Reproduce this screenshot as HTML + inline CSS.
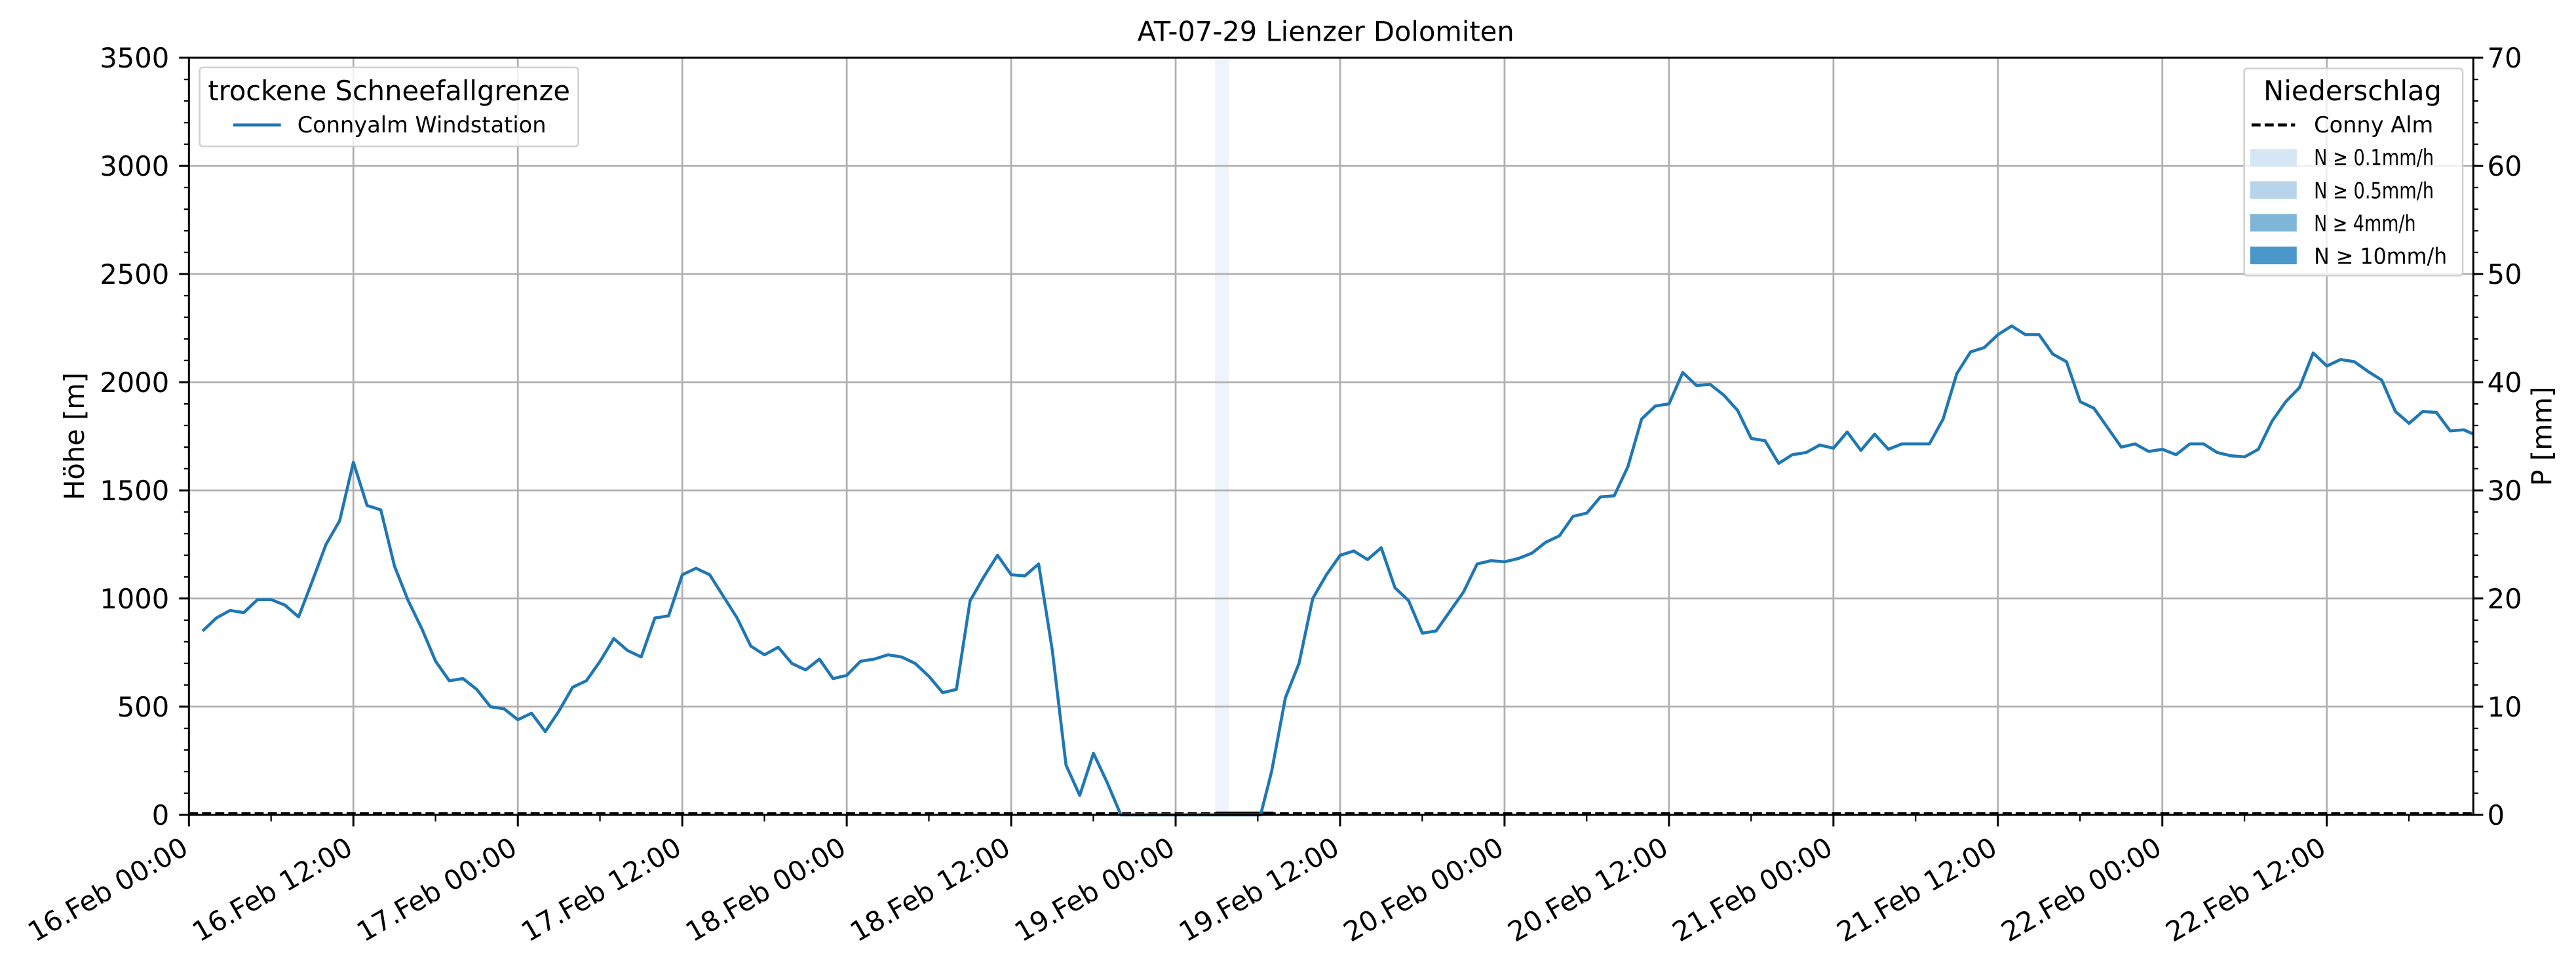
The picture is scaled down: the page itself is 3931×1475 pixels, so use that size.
<!DOCTYPE html>
<html><head><meta charset="utf-8"><style>html,body{margin:0;padding:0;background:#fff}svg{display:block}</style></head>
<body>
<svg width="3931" height="1475" viewBox="0 0 1568 588" preserveAspectRatio="none" xmlns="http://www.w3.org/2000/svg" font-family="DejaVu Sans, Liberation Sans, sans-serif">
<rect width="1568" height="588" fill="#fff"/>
<text x="807" y="25" font-size="16.6" text-anchor="middle">AT-07-29 Lienzer Dolomiten</text>
<rect x="739.5" y="35.1" width="8.5" height="460.4" fill="#eef4fb"/>
<g stroke="#b0b0b0" stroke-width="1.1">
<line x1="215.1" y1="35.1" x2="215.1" y2="495.5"/><line x1="315.2" y1="35.1" x2="315.2" y2="495.5"/><line x1="415.3" y1="35.1" x2="415.3" y2="495.5"/><line x1="515.4" y1="35.1" x2="515.4" y2="495.5"/><line x1="615.5" y1="35.1" x2="615.5" y2="495.5"/><line x1="715.6" y1="35.1" x2="715.6" y2="495.5"/><line x1="815.7" y1="35.1" x2="815.7" y2="495.5"/><line x1="915.8" y1="35.1" x2="915.8" y2="495.5"/><line x1="1015.9" y1="35.1" x2="1015.9" y2="495.5"/><line x1="1116" y1="35.1" x2="1116" y2="495.5"/><line x1="1216.1" y1="35.1" x2="1216.1" y2="495.5"/><line x1="1316.2" y1="35.1" x2="1316.2" y2="495.5"/><line x1="1416.3" y1="35.1" x2="1416.3" y2="495.5"/>
<line x1="115" y1="429.7" x2="1505.5" y2="429.7"/><line x1="115" y1="363.9" x2="1505.5" y2="363.9"/><line x1="115" y1="298.2" x2="1505.5" y2="298.2"/><line x1="115" y1="232.4" x2="1505.5" y2="232.4"/><line x1="115" y1="166.6" x2="1505.5" y2="166.6"/><line x1="115" y1="100.9" x2="1505.5" y2="100.9"/>
</g>
<rect x="740" y="493.5" width="35" height="2" fill="#000"/>
<line x1="115" y1="494.6" x2="1505.5" y2="494.6" stroke="#000" stroke-width="1.4" stroke-dasharray="5.5,2.5"/>
<polyline fill="none" stroke="#1f77b4" stroke-width="4.6" vector-effect="non-scaling-stroke" stroke-linejoin="round" transform="matrix(8.342 0 0 -0.13154 115 495.5)" points="1,850 2,910 3,945 4,935 5,995 6,995 7,970 8,915 9,1080 10,1250 11,1360 12,1630 13,1430 14,1410 15,1150 16,990 17,860 18,710 19,620 20,630 21,580 22,500 23,490 24,440 25,470 26,385 27,480 28,590 29,620 30,710 31,815 32,760 33,730 34,910 35,920 36,1110 37,1140 38,1110 39,1010 40,910 41,780 42,740 43,775 44,700 45,670 46,720 47,630 48,645 49,710 50,720 51,740 52,730 53,700 54,640 55,565 56,580 57,990 58,1100 59,1200 60,1110 61,1105 62,1160 63,760 64,230 65,90 66,285 67,150 68,0 78.2,0 79,200 80,540 81,700 82,1000 83,1110 84,1200 85,1220 86,1180 87,1235 88,1050 89,990 90,840 91,850 92,940 93,1030 94,1160 95,1175 96,1170 97,1185 98,1210 99,1260 100,1290 101,1380 102,1395 103,1470 104,1475 105,1610 106,1830 107,1890 108,1900 109,2045 110,1985 111,1990 112,1940 113,1870 114,1740 115,1730 116,1625 117,1665 118,1675 119,1710 120,1695 121,1770 122,1685 123,1760 124,1690 125,1715 126,1715 127,1715 128,1830 129,2040 130,2140 131,2160 132,2220 133,2260 134,2220 135,2220 136,2130 137,2095 138,1910 139,1880 140,1790 141,1700 142,1715 143,1680 144,1690 145,1665 146,1715 147,1715 148,1675 149,1660 150,1655 151,1690 152,1820 153,1910 154,1975 155,2135 156,2075 157,2105 158,2095 159,2050 160,2010 161,1865 162,1810 163,1865 164,1860 165,1775 166,1780 166.7,1760"/>
<rect x="115" y="35.1" width="1390.5" height="460.4" fill="none" stroke="#000" stroke-width="1.2"/>
<g stroke="#000" stroke-width="1.2">
<line x1="109" y1="495.5" x2="115" y2="495.5"/><line x1="109" y1="429.7" x2="115" y2="429.7"/><line x1="109" y1="363.9" x2="115" y2="363.9"/><line x1="109" y1="298.2" x2="115" y2="298.2"/><line x1="109" y1="232.4" x2="115" y2="232.4"/><line x1="109" y1="166.6" x2="115" y2="166.6"/><line x1="109" y1="100.9" x2="115" y2="100.9"/><line x1="109" y1="35.1" x2="115" y2="35.1"/>
<line x1="1505.5" y1="495.5" x2="1511.5" y2="495.5"/><line x1="1505.5" y1="429.7" x2="1511.5" y2="429.7"/><line x1="1505.5" y1="363.9" x2="1511.5" y2="363.9"/><line x1="1505.5" y1="298.2" x2="1511.5" y2="298.2"/><line x1="1505.5" y1="232.4" x2="1511.5" y2="232.4"/><line x1="1505.5" y1="166.6" x2="1511.5" y2="166.6"/><line x1="1505.5" y1="100.9" x2="1511.5" y2="100.9"/><line x1="1505.5" y1="35.1" x2="1511.5" y2="35.1"/>
<line x1="115" y1="495.5" x2="115" y2="502.5"/><line x1="215.1" y1="495.5" x2="215.1" y2="502.5"/><line x1="315.2" y1="495.5" x2="315.2" y2="502.5"/><line x1="415.3" y1="495.5" x2="415.3" y2="502.5"/><line x1="515.4" y1="495.5" x2="515.4" y2="502.5"/><line x1="615.5" y1="495.5" x2="615.5" y2="502.5"/><line x1="715.6" y1="495.5" x2="715.6" y2="502.5"/><line x1="815.7" y1="495.5" x2="815.7" y2="502.5"/><line x1="915.8" y1="495.5" x2="915.8" y2="502.5"/><line x1="1015.9" y1="495.5" x2="1015.9" y2="502.5"/><line x1="1116" y1="495.5" x2="1116" y2="502.5"/><line x1="1216.1" y1="495.5" x2="1216.1" y2="502.5"/><line x1="1316.2" y1="495.5" x2="1316.2" y2="502.5"/><line x1="1416.3" y1="495.5" x2="1416.3" y2="502.5"/>
</g>
<g stroke="#000" stroke-width="0.9">
<path d="M112,482.3h3M112,469.2h3M112,456h3M112,442.9h3M112,416.5h3M112,403.4h3M112,390.2h3M112,377.1h3M112,350.8h3M112,337.6h3M112,324.5h3M112,311.3h3M112,285h3M112,271.9h3M112,258.7h3M112,245.6h3M112,219.2h3M112,206.1h3M112,192.9h3M112,179.8h3M112,153.5h3M112,140.3h3M112,127.2h3M112,114h3M112,87.7h3M112,74.6h3M112,61.4h3M112,48.3h3"/>
<path d="M1505.5,482.3h3M1505.5,469.2h3M1505.5,456h3M1505.5,442.9h3M1505.5,416.5h3M1505.5,403.4h3M1505.5,390.2h3M1505.5,377.1h3M1505.5,350.8h3M1505.5,337.6h3M1505.5,324.5h3M1505.5,311.3h3M1505.5,285h3M1505.5,271.9h3M1505.5,258.7h3M1505.5,245.6h3M1505.5,219.2h3M1505.5,206.1h3M1505.5,192.9h3M1505.5,179.8h3M1505.5,153.5h3M1505.5,140.3h3M1505.5,127.2h3M1505.5,114h3M1505.5,87.7h3M1505.5,74.6h3M1505.5,61.4h3M1505.5,48.3h3"/>
<path d="M165,495.5v4M265.1,495.5v4M365.2,495.5v4M465.3,495.5v4M565.4,495.5v4M665.5,495.5v4M765.6,495.5v4M865.7,495.5v4M965.8,495.5v4M1065.9,495.5v4M1166,495.5v4M1266.1,495.5v4M1366.2,495.5v4M1466.3,495.5v4"/>
</g>
<g font-size="16.6" text-anchor="end">
<text x="103" y="501.5">0</text><text x="103" y="435.7">500</text><text x="103" y="369.9">1000</text><text x="103" y="304.2">1500</text><text x="103" y="238.4">2000</text><text x="103" y="172.6">2500</text><text x="103" y="106.9">3000</text><text x="103" y="41.1">3500</text>
</g>
<g font-size="16.6" text-anchor="start">
<text x="1514" y="501.5">0</text><text x="1514" y="435.7">10</text><text x="1514" y="369.9">20</text><text x="1514" y="304.2">30</text><text x="1514" y="238.4">40</text><text x="1514" y="172.6">50</text><text x="1514" y="106.9">60</text><text x="1514" y="41.1">70</text>
</g>
<text transform="translate(51,265.3) rotate(-90)" font-size="16.6" text-anchor="middle">Höhe [m]</text>
<text transform="translate(1553,265.3) rotate(-90)" font-size="16.6" text-anchor="middle">P [mm]</text>
<g font-size="16.6" text-anchor="end">
<text transform="translate(109.5,508) rotate(-30)" dy="12.3">16.Feb 00:00</text>
<text transform="translate(209.6,508) rotate(-30)" dy="12.3">16.Feb 12:00</text>
<text transform="translate(309.7,508) rotate(-30)" dy="12.3">17.Feb 00:00</text>
<text transform="translate(409.8,508) rotate(-30)" dy="12.3">17.Feb 12:00</text>
<text transform="translate(509.9,508) rotate(-30)" dy="12.3">18.Feb 00:00</text>
<text transform="translate(610,508) rotate(-30)" dy="12.3">18.Feb 12:00</text>
<text transform="translate(710.1,508) rotate(-30)" dy="12.3">19.Feb 00:00</text>
<text transform="translate(810.2,508) rotate(-30)" dy="12.3">19.Feb 12:00</text>
<text transform="translate(910.3,508) rotate(-30)" dy="12.3">20.Feb 00:00</text>
<text transform="translate(1010.4,508) rotate(-30)" dy="12.3">20.Feb 12:00</text>
<text transform="translate(1110.5,508) rotate(-30)" dy="12.3">21.Feb 00:00</text>
<text transform="translate(1210.6,508) rotate(-30)" dy="12.3">21.Feb 12:00</text>
<text transform="translate(1310.7,508) rotate(-30)" dy="12.3">22.Feb 00:00</text>
<text transform="translate(1410.8,508) rotate(-30)" dy="12.3">22.Feb 12:00</text>
</g>
<rect x="121.5" y="41" width="230.5" height="48" rx="2" fill="#fff" fill-opacity="0.8" stroke="#d0d0d0" stroke-width="1"/>
<text x="236.8" y="61" font-size="16.6" text-anchor="middle">trockene Schneefallgrenze</text>
<line x1="142" y1="76" x2="171" y2="76" stroke="#1f77b4" stroke-width="1.8"/>
<text x="181" y="80.5" font-size="13.4">Connyalm Windstation</text>
<rect x="1366" y="41.6" width="133" height="126" rx="2" fill="#fff" fill-opacity="0.8" stroke="#d0d0d0" stroke-width="1"/>
<text x="1432" y="61" font-size="16.6" text-anchor="middle">Niederschlag</text>
<line x1="1370.5" y1="76" x2="1397" y2="76" stroke="#000" stroke-width="1.8" stroke-dasharray="5.5,2.5"/>
<text x="1408.5" y="80.5" font-size="13.4">Conny Alm</text>
<rect x="1369.7" y="90.6" width="28.3" height="10.7" fill="#d6e6f4"/>
<text x="1408.5" y="100.5" font-size="13.4" textLength="73" lengthAdjust="spacingAndGlyphs">N ≥ 0.1mm/h</text>
<rect x="1369.7" y="110.2" width="28.3" height="10.7" fill="#b7d4ea"/>
<text x="1408.5" y="120.5" font-size="13.4" textLength="73" lengthAdjust="spacingAndGlyphs">N ≥ 0.5mm/h</text>
<rect x="1369.7" y="130.1" width="28.3" height="10.7" fill="#7fb6d8"/>
<text x="1408.5" y="140.5" font-size="13.4" textLength="62" lengthAdjust="spacingAndGlyphs">N ≥ 4mm/h</text>
<rect x="1369.7" y="150" width="28.3" height="10.7" fill="#4a98c9"/>
<text x="1408.5" y="160.5" font-size="13.4" textLength="81" lengthAdjust="spacingAndGlyphs">N ≥ 10mm/h</text>
</svg>
</body></html>
